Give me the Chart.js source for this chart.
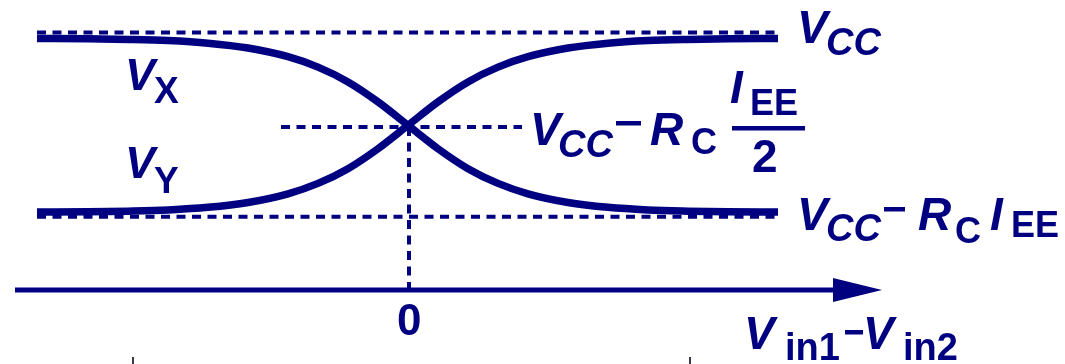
<!DOCTYPE html>
<html>
<head>
<meta charset="utf-8">
<script src="https://cdn.jsdelivr.net/npm/chart.js@4/dist/chart.umd.min.js"></script>
<style>
  html, body { margin: 0; padding: 0; background: #fff; }
  #wrap { position: relative; width: 1065px; height: 364px; }
</style>
</head>
<body>
<div id="wrap"><canvas id="c"></canvas></div>
<script>
// Differential input Vin1 - Vin2 (arbitrary units, 0 = balanced pair)
const inputDiff = [-3.71, -3.2, -2.8, -2.4, -2.0, -1.6, -1.2, -0.9, -0.6, -0.3, 0,
                   0.3, 0.6, 0.9, 1.2, 1.6, 2.0, 2.4, 2.8, 3.2, 3.70];
// Collector outputs, normalised: 1 = VCC, 0 = VCC - RC*IEE
const outX = [1.0, 0.999, 0.995, 0.988, 0.973, 0.945, 0.895, 0.835, 0.75, 0.635, 0.5,
              0.365, 0.25, 0.165, 0.105, 0.055, 0.027, 0.012, 0.005, 0.001, 0];
const outY = [0, 0.001, 0.005, 0.012, 0.027, 0.055, 0.105, 0.165, 0.25, 0.365, 0.5,
              0.635, 0.75, 0.835, 0.895, 0.945, 0.973, 0.988, 0.995, 0.999, 1.0];

// Reference levels: VCC, VCC - RC*IEE/2, VCC - RC*IEE
const levelHigh = 1.034;
const levelMid = 0.49;
const levelLow = -0.027;
const levelSpan = [-3.71, 3.72];
const midSpan = [-1.27, 1.14];

// Horizontal input axis
const axisLevel = -0.45;
const axisSpan = [-3.93, 4.27];
const arrowTip = 4.74;
const arrowHalf = 0.069;

const NAVY = 'rgb(0,0,128)';

const pts = (xs, ys) => xs.map((x, i) => ({ x, y: ys[i] }));

const dashed = (data) => ({
  data, borderColor: NAVY, borderWidth: 4, borderDash: [9, 6.5],
  pointRadius: 0, tension: 0, fill: false, order: 2
});

const curve = (data) => ({
  data, borderColor: NAVY, borderWidth: 7.5, pointRadius: 0,
  cubicInterpolationMode: 'monotone', fill: false, order: 1,
  borderCapStyle: 'butt'
});

// Text runs: [text, x, baseline, size, italic]
const labels = [
  ['V', 797, 43, 46, true], ['CC', 826, 55, 38, true],
  ['V', 125, 90, 45, true], ['X', 154, 103, 37, false],
  ['V', 125, 178, 45, true], ['Y', 154, 193, 37, false],
  ['V', 530, 145, 46, true], ['CC', 558, 157, 38, true],
  ['R', 650, 145, 46, true], ['C', 691, 154, 36, false],
  ['I', 730, 103, 46, true], ['EE', 750, 115, 36, false], ['2', 752, 172, 46, false],
  ['V', 797, 230, 46, true], ['CC', 826, 241, 38, true],
  ['R', 918, 230, 46, true], ['C', 955, 243, 36, false],
  ['I', 990, 230, 46, true], ['EE', 1011, 237, 36, false],
  ['0', 397, 335, 44, false],
  ['V', 744, 349, 46, true], ['in1', 785, 360, 38, false],
  ['V', 863, 349, 46, true], ['in2', 903, 360, 38, false]
];
// Minus signs: [x, centre y, width]
const minusSigns = [[616, 123, 25], [884, 209, 21], [845, 332, 18]];

const decor = {
  id: 'decor',
  afterDatasetsDraw(chart) {
    const { ctx, scales: { x, y } } = chart;
    ctx.save();
    // arrow head on the input axis
    ctx.fillStyle = NAVY;
    ctx.beginPath();
    ctx.moveTo(x.getPixelForValue(axisSpan[1] - 0.02), y.getPixelForValue(axisLevel + arrowHalf));
    ctx.lineTo(x.getPixelForValue(arrowTip), y.getPixelForValue(axisLevel));
    ctx.lineTo(x.getPixelForValue(axisSpan[1] - 0.02), y.getPixelForValue(axisLevel - arrowHalf));
    ctx.closePath();
    ctx.fill();
    // fraction bar of IEE/2
    ctx.fillRect(732, 126, 73, 4.5);
    for (const [mx, my, mw] of minusSigns) ctx.fillRect(mx, my - 2, mw, 4.5);
    // labels
    ctx.textBaseline = 'alphabetic';
    for (const [t, px, py, size, it] of labels) {
      ctx.font = (it ? 'italic ' : '') + 'bold ' + size + 'px "Liberation Sans", Arial, sans-serif';
      ctx.fillText(t, px, py);
    }
    // clipped glyph tops along the bottom edge
    ctx.fillStyle = '#3a3a4a';
    ctx.fillRect(132, 357, 2, 7);
    ctx.fillRect(689, 357, 2, 7);
    ctx.restore();
  }
};

new Chart(document.getElementById('c'), {
  type: 'scatter',
  data: {
    datasets: [
      curve(pts(inputDiff, outX)),
      curve(pts(inputDiff, outY)),
      dashed(pts(levelSpan, [levelHigh, levelHigh])),
      dashed(pts(levelSpan, [levelLow, levelLow])),
      dashed(pts(midSpan, [levelMid, levelMid])),
      dashed(pts([0.01, 0.01], [levelMid, axisLevel])),
      { data: pts(axisSpan, [axisLevel, axisLevel]), borderColor: NAVY, borderWidth: 5,
        pointRadius: 0, fill: false, order: 0 }
    ].map(d => Object.assign({ showLine: true, clip: false }, d))
  },
  options: {
    responsive: true,
    maintainAspectRatio: false,
    animation: false,
    events: [],
    layout: { padding: 0 },
    plugins: { legend: { display: false }, tooltip: { enabled: false }, title: { display: false } },
    scales: {
      x: { type: 'linear', display: false, min: -4.08, max: 6.57 },
      y: { type: 'linear', display: false, min: -0.876, max: 1.222 }
    }
  },
  plugins: [decor]
});
</script>
</body>
</html>
